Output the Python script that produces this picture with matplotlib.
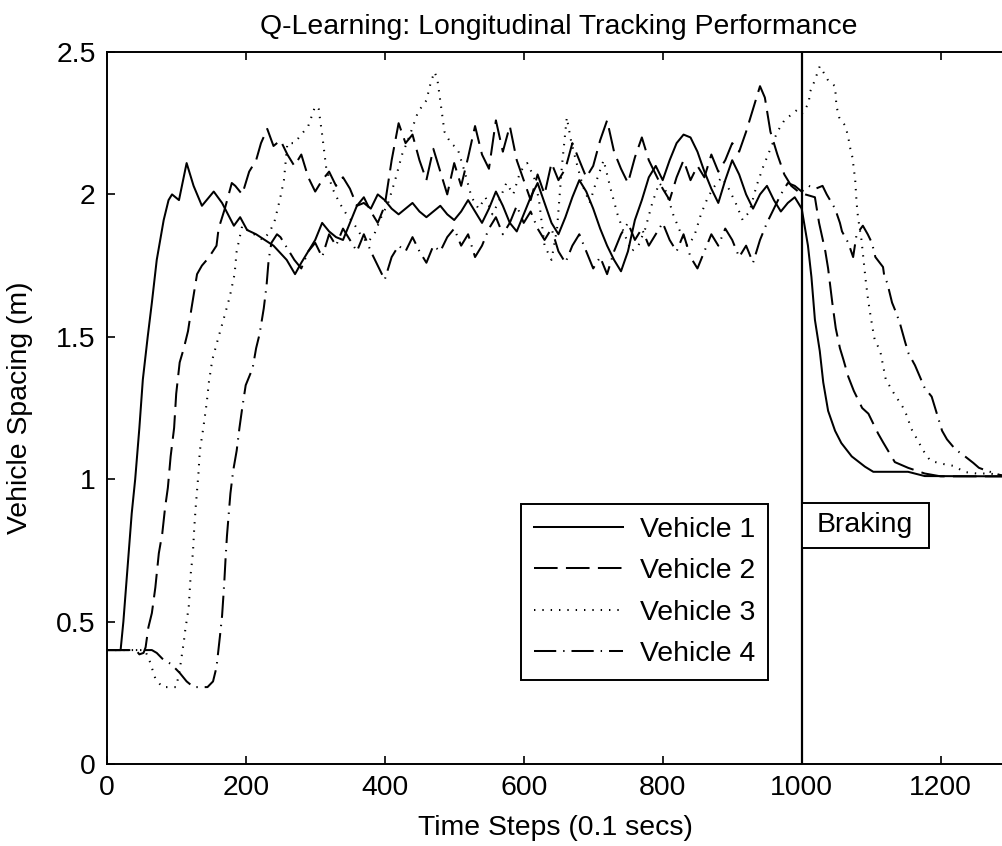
import matplotlib
matplotlib.use("Agg")
import matplotlib.pyplot as plt
from matplotlib.patches import Rectangle

plt.rcParams['font.family'] = ['Liberation Sans', 'DejaVu Sans']
plt.rcParams['lines.scale_dashes'] = False

title = "Q-Learning: Longitudinal Tracking Performance"
x_label = "Time Steps (0.1 secs)"
y_label = "Vehicle Spacing (m)"
series_names = ["Vehicle 1", "Vehicle 2", "Vehicle 3", "Vehicle 4"]
x_ticks = [0, 200, 400, 600, 800, 1000, 1200]
y_ticks = [0, 0.5, 1, 1.5, 2, 2.5]
y_tick_labels = ["0", "0.5", "1", "1.5", "2", "2.5"]
braking_start = 1000
braking_label = "Braking"

# Vehicle 1 (solid)
v1_t = [0, 20, 24, 30, 36, 41, 47, 52, 59, 65, 72, 82, 89, 94, 104, 115, 125, 137, 154, 166, 183, 192, 202, 215, 240, 259, 271, 280,
        290, 300, 310, 320, 330, 340, 350, 360, 370, 380, 390, 400, 410, 420, 430, 440, 450, 460, 470, 480, 490, 500,
        510, 520, 530, 540, 550, 560, 570, 580, 590, 600, 610, 620, 630, 640, 650, 660, 670, 680, 690, 700,
        710, 720, 730, 740, 750, 760, 770, 780, 790, 800, 810, 820, 830, 840, 850, 860, 870, 880, 890, 900,
        910, 920, 930, 940, 950, 960, 970, 980, 990, 1000,
        1009, 1014, 1019, 1026, 1031, 1038, 1048, 1057, 1072, 1091, 1103, 1153, 1177, 1300]
v1_v = [0.40, 0.40, 0.50, 0.69, 0.88, 1.00, 1.18, 1.35, 1.50, 1.62, 1.77, 1.91, 1.98, 2.00, 1.98, 2.11, 2.03, 1.96, 2.01, 1.97, 1.89, 1.92, 1.875, 1.86, 1.82, 1.77, 1.72, 1.76,
        1.80, 1.84, 1.90, 1.87, 1.85, 1.84, 1.90, 1.96, 1.97, 1.95, 2.00, 1.98, 1.95, 1.93, 1.95, 1.97, 1.94, 1.92, 1.94, 1.96, 1.93, 1.91,
        1.94, 1.98, 1.94, 1.90, 1.95, 2.01, 1.96, 1.90, 1.87, 1.93, 1.99, 2.04, 1.97, 1.90, 1.86, 1.92, 1.99, 2.05, 2.01, 1.95,
        1.88, 1.82, 1.77, 1.73, 1.80, 1.91, 1.98, 2.06, 2.10, 2.05, 2.12, 2.18, 2.21, 2.20, 2.15, 2.08, 2.02, 1.97, 2.05, 2.12,
        2.07, 2.00, 1.95, 2.00, 2.03, 1.98, 1.94, 1.97, 1.99, 1.95,
        1.82, 1.71, 1.56, 1.45, 1.34, 1.24, 1.17, 1.127, 1.08, 1.044, 1.026, 1.026, 1.011, 1.01]

# Vehicle 2 (dashed)
v2_t = [0, 42, 47, 53, 56, 60, 65, 70, 75, 80, 84, 88, 92, 97, 100, 105, 111, 117, 122, 126, 130, 137, 144, 150, 158, 161, 170, 180, 185, 195,
        205, 215, 222, 231, 240, 250, 260, 270, 280, 290, 300, 310, 320, 330, 340, 350, 360, 370, 380, 390, 400,
        410, 420, 430, 440, 450, 460, 470, 480, 490, 500, 510, 520, 530, 540, 550, 560, 570, 580, 590, 600,
        610, 620, 630, 640, 650, 660, 670, 680, 690, 700, 710, 720, 730, 740, 750, 760, 770, 780, 790, 800,
        810, 820, 830, 840, 850, 860, 870, 880, 890, 900, 910, 920, 930, 940, 947, 955, 965, 975, 985, 995,
        1005, 1019, 1025, 1034, 1038, 1044, 1049, 1055, 1060, 1067, 1075, 1087, 1096, 1110, 1117, 1134, 1153, 1177, 1200, 1300]
v2_v = [0.40, 0.40, 0.385, 0.39, 0.41, 0.48, 0.53, 0.62, 0.74, 0.81, 0.90, 0.97, 1.08, 1.18, 1.30, 1.41, 1.46, 1.52, 1.60, 1.66, 1.72, 1.75, 1.77, 1.79, 1.82, 1.88, 1.95, 2.04, 2.03, 2.00,
        2.08, 2.12, 2.18, 2.23, 2.17, 2.19, 2.14, 2.10, 2.14, 2.06, 2.01, 2.05, 2.08, 2.03, 2.06, 2.02, 1.96, 1.99, 1.94, 1.90, 1.96,
        2.12, 2.25, 2.18, 2.21, 2.12, 2.05, 2.16, 2.08, 2.00, 2.11, 2.03, 2.13, 2.24, 2.14, 2.09, 2.26, 2.15, 2.24, 2.12, 2.05,
        1.98, 2.07, 2.00, 2.11, 2.05, 2.09, 2.18, 2.12, 2.06, 2.10, 2.19, 2.26, 2.15, 2.09, 2.04, 2.13, 2.20, 2.12, 2.07, 2.02,
        1.98, 2.06, 2.12, 2.05, 2.10, 2.06, 2.14, 2.08, 2.12, 2.18, 2.15, 2.22, 2.30, 2.38, 2.34, 2.22, 2.14, 2.07, 2.03, 2.01,
        2.00, 1.99, 1.90, 1.80, 1.74, 1.62, 1.53, 1.46, 1.42, 1.36, 1.31, 1.25, 1.23, 1.16, 1.13, 1.06, 1.04, 1.02, 1.01, 1.01]

# Vehicle 3 (dotted)
v3_t = [0, 55, 62, 70, 80, 100, 105, 111, 113, 118, 121, 124, 126, 128, 132, 134, 139, 144, 147, 152, 161, 168, 177, 184, 187, 195,
        205, 212, 225, 235, 242, 249, 255, 260, 270, 280, 290, 300, 305, 310, 316, 325, 335, 345, 355, 365, 375, 385, 395,
        405, 415, 425, 435, 448, 460, 467, 472, 476, 481, 486, 495, 505, 515, 525, 535, 545, 555, 565, 575, 585, 595,
        605, 615, 622, 630, 640, 648, 655, 662, 668, 675, 685, 695, 705, 715, 725, 735, 745, 755, 765, 775, 785, 795,
        805, 815, 825, 835, 845, 855, 865, 875, 885, 895, 905, 915, 925, 935, 945, 955, 965, 975, 985, 995,
        1001, 1010, 1012, 1018, 1026, 1031, 1038, 1048, 1050, 1054, 1063, 1067, 1070, 1073, 1075, 1077, 1079, 1081, 1086, 1089,
        1092, 1095, 1098, 1102, 1105, 1113, 1117, 1121, 1133, 1145, 1152, 1157, 1165, 1175, 1185, 1200, 1218, 1235, 1252, 1270, 1300]
v3_v = [0.40, 0.40, 0.36, 0.30, 0.27, 0.27, 0.33, 0.43, 0.47, 0.55, 0.67, 0.74, 0.83, 0.90, 1.02, 1.10, 1.18, 1.27, 1.34, 1.42, 1.50, 1.56, 1.64, 1.72, 1.80, 1.89,
        1.87, 1.86, 1.84, 1.87, 1.91, 1.98, 2.05, 2.18, 2.18, 2.21, 2.24, 2.31, 2.30, 2.21, 2.09, 2.02, 1.97, 1.93, 1.90, 1.86, 1.83, 1.86, 1.92,
        1.97, 2.05, 2.14, 2.20, 2.29, 2.33, 2.40, 2.43, 2.40, 2.31, 2.22, 2.18, 2.16, 2.08, 1.99, 1.95, 1.99, 1.93, 1.98, 2.04, 2.00, 2.08,
        2.11, 2.06, 1.98, 1.82, 1.77, 1.88, 2.10, 2.27, 2.19, 2.12, 2.03, 1.97, 2.05, 2.12, 2.02, 1.93, 1.86, 1.80, 1.82, 1.88, 1.97, 2.04,
        2.01, 1.93, 1.87, 1.82, 1.85, 1.93, 1.99, 2.03, 2.06, 2.02, 1.97, 1.91, 1.94, 2.03, 2.10, 2.16, 2.22, 2.26, 2.28, 2.30,
        2.285, 2.32, 2.36, 2.395, 2.45, 2.43, 2.40, 2.38, 2.31, 2.27, 2.24, 2.20, 2.16, 2.13, 2.09, 2.05, 1.97, 1.92, 1.84, 1.77,
        1.70, 1.64, 1.59, 1.53, 1.49, 1.45, 1.40, 1.35, 1.30, 1.255, 1.22, 1.18, 1.145, 1.10, 1.065, 1.055, 1.047, 1.025, 1.02, 1.02, 1.01]

# Vehicle 4 (dash-dot)
v4_t = [0, 65, 72, 80, 93, 105, 115, 125, 133, 145, 153, 158, 163, 166, 169, 171, 173, 178, 182, 187, 191, 195, 200, 210, 215, 220, 226, 230, 233, 237, 245,
        250, 260, 270, 280, 290, 300, 310, 320, 330, 340, 350, 360, 370, 380, 390, 400,
        410, 420, 430, 440, 450, 460, 470, 480, 490, 500, 510, 520, 530, 540, 550, 560, 570, 580, 590, 600,
        610, 620, 630, 640, 650, 660, 670, 680, 690, 700, 710, 720, 730, 740, 750, 760, 770, 780, 790, 800,
        810, 820, 830, 840, 850, 860, 870, 880, 890, 900, 910, 920, 930, 940, 950, 960, 970, 980, 990, 1000,
        1010, 1020, 1030, 1036, 1048, 1055, 1058, 1067, 1074, 1079, 1088, 1095, 1101, 1106, 1117, 1119, 1123, 1130, 1135, 1141,
        1149, 1154, 1163, 1177, 1187, 1192, 1202, 1209, 1221, 1235, 1247, 1255, 1266, 1285, 1300]
v4_v = [0.40, 0.40, 0.39, 0.37, 0.35, 0.32, 0.29, 0.27, 0.27, 0.27, 0.29, 0.34, 0.45, 0.52, 0.63, 0.72, 0.80, 0.95, 1.03, 1.10, 1.18, 1.25, 1.33, 1.39, 1.46, 1.51, 1.60, 1.68, 1.77, 1.83, 1.86,
        1.85, 1.81, 1.77, 1.74, 1.80, 1.83, 1.78, 1.86, 1.82, 1.88, 1.84, 1.80, 1.86, 1.80, 1.75, 1.70,
        1.78, 1.82, 1.80, 1.85, 1.80, 1.76, 1.82, 1.80, 1.85, 1.88, 1.82, 1.86, 1.78, 1.82, 1.88, 1.92, 1.86, 1.90, 1.96, 1.90,
        1.94, 1.88, 1.84, 1.88, 1.80, 1.76, 1.82, 1.86, 1.80, 1.74, 1.78, 1.72, 1.80, 1.86, 1.90, 1.84, 1.88, 1.82, 1.86, 1.90,
        1.84, 1.80, 1.86, 1.78, 1.74, 1.80, 1.86, 1.82, 1.88, 1.84, 1.78, 1.82, 1.76, 1.84, 1.90, 1.95, 2.00, 2.04, 2.03, 2.01,
        2.03, 2.02, 2.03, 2.00, 1.95, 1.90, 1.87, 1.83, 1.78, 1.86, 1.89, 1.86, 1.83, 1.78, 1.745, 1.71, 1.69, 1.62, 1.59, 1.55,
        1.48, 1.44, 1.40, 1.32, 1.29, 1.25, 1.17, 1.14, 1.105, 1.08, 1.057, 1.04, 1.03, 1.015, 1.01]

W, H = 1003, 846
fig = plt.figure(figsize=(W / 100, H / 100), dpi=100)
ax_left, ax_right, ax_top, ax_bottom = 106.7, 1010.2, 52, 764
ax_w, ax_h = ax_right - ax_left, ax_bottom - ax_top
ax = fig.add_axes([ax_left / W, 1 - ax_bottom / H, ax_w / W, ax_h / H])

lw = 1.45
styles = [
    dict(linestyle='-'),
    dict(linestyle=(0, (17, 6))),
    dict(linestyle=(0, (1.0, 5.0))),
    dict(linestyle=(0, (16, 5, 1.0, 5))),
]
data = [(v1_t, v1_v), (v2_t, v2_v), (v3_t, v3_v), (v4_t, v4_v)]
for (tt, vv), st, name in zip(data, styles, series_names):
    ax.plot(tt, vv, color='black', lw=lw, label=name, **st)

ax.axvline(braking_start, color='black', lw=1.6)

ax.set_xlim(0, 1300)
ax.set_ylim(0, 2.5)
ax.set_xticks(x_ticks)
ax.set_xticklabels([str(v) for v in x_ticks])
ax.set_yticks(y_ticks)
ax.set_yticklabels(y_tick_labels)
fs = 20.4
ax.tick_params(direction='in', length=6, width=1.2, top=True, right=True,
               labelsize=fs, pad=8, colors='black')
for s in ax.spines.values():
    s.set_linewidth(1.4)
    s.set_color('black')

ax.set_title(title, fontsize=fs, pad=13)
ax.set_xlabel(x_label, fontsize=fs)
ax.set_ylabel(y_label, fontsize=fs)
ax.xaxis.set_label_coords(0.497, (ax_bottom - 815) / ax_h)
ax.yaxis.set_label_coords((33 - ax_left) / ax_w, 0.5)

leg = ax.legend(loc='upper left', bbox_to_anchor=(521 / W, 1 - 504 / H),
                bbox_transform=fig.transFigure, borderaxespad=0,
                fontsize=fs, frameon=True, fancybox=False, framealpha=1,
                edgecolor='black', handlelength=3.15, handletextpad=0.6,
                borderpad=0.45, labelspacing=0.545)
leg.get_frame().set_linewidth(1.4)

# Braking annotation box
px_per_t = ax_w / 1300
px_per_v = ax_h / 2.5
box_w_t = 127 / px_per_t
box_y0 = (ax_bottom - 548) / px_per_v
box_y1 = (ax_bottom - 503) / px_per_v
ax.add_patch(Rectangle((braking_start, box_y0), box_w_t, box_y1 - box_y0,
                       facecolor='white', edgecolor='black', lw=1.4, zorder=5))
ax.text(braking_start + box_w_t / 2, (box_y0 + box_y1) / 2, braking_label,
        ha='center', va='center', fontsize=fs, zorder=6)

fig.savefig('out.png', dpi=100)
